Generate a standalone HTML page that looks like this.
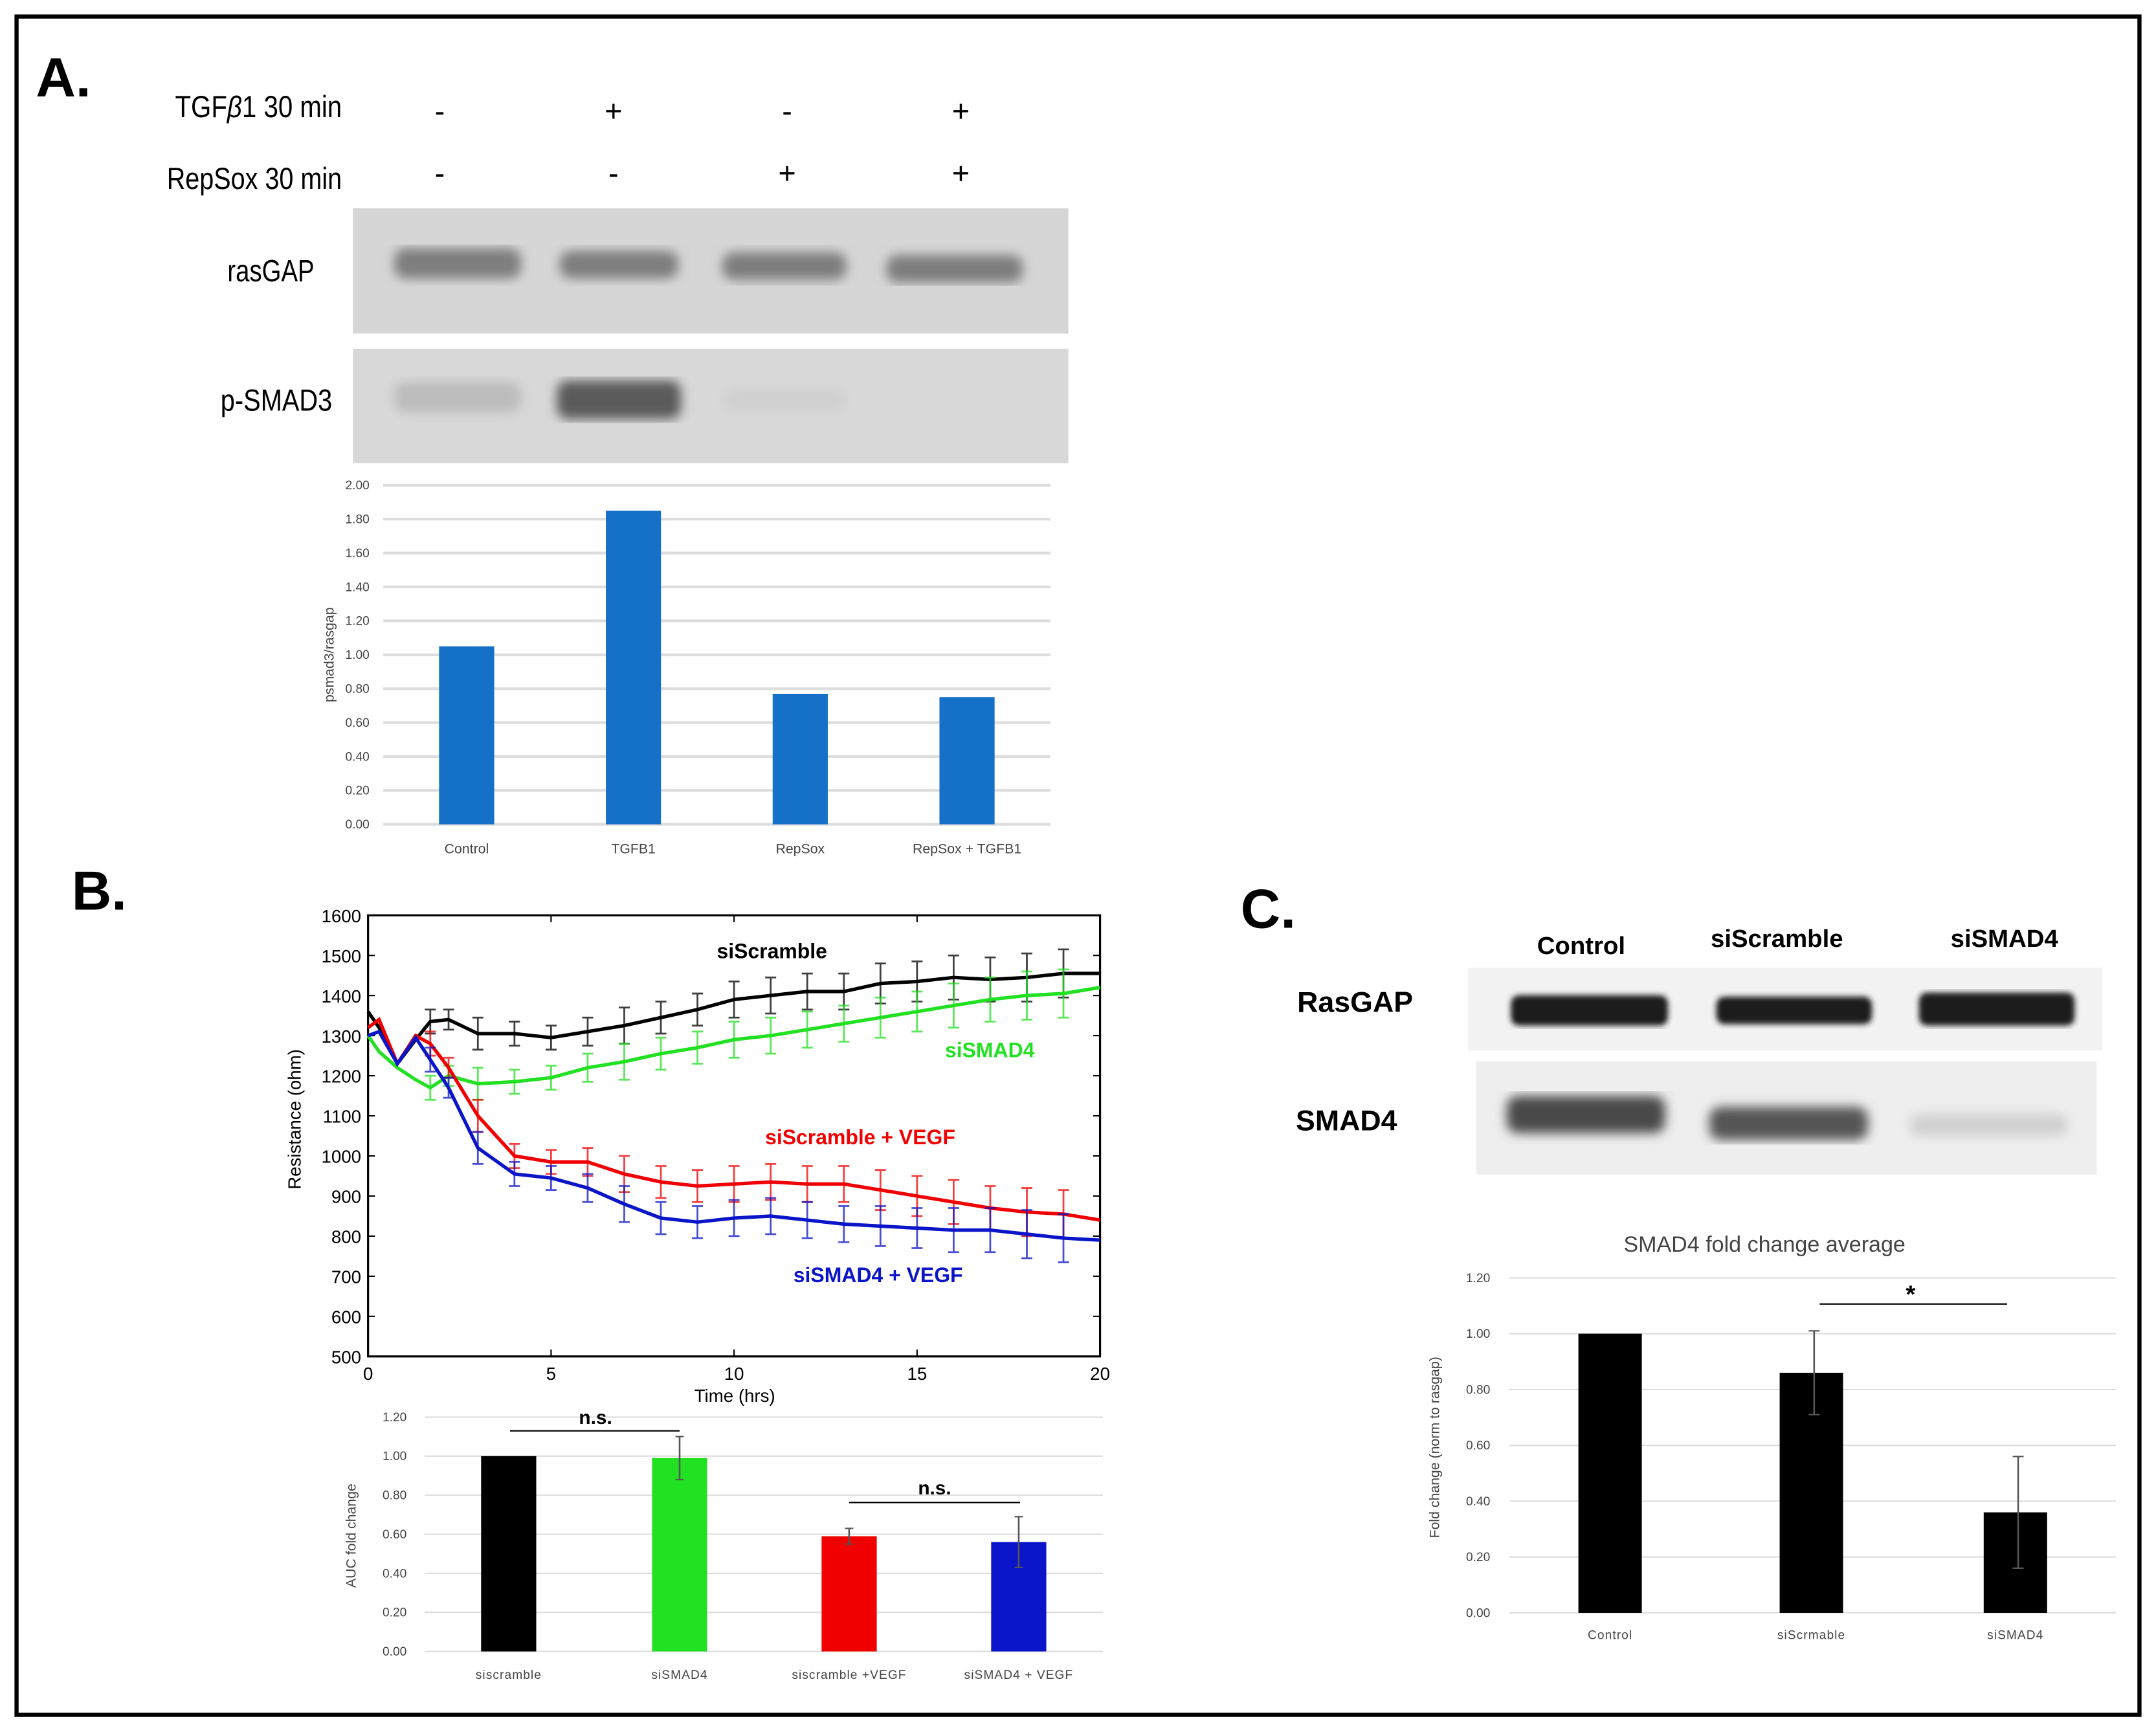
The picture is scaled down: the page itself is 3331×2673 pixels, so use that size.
<!DOCTYPE html>
<html><head><meta charset="utf-8"><style>
html,body{margin:0;padding:0;background:#fff;}
svg{display:block;font-family:"Liberation Sans",sans-serif;}
</style></head><body>
<svg id="fig" width="3331" height="2673" viewBox="0 0 1564 1255" preserveAspectRatio="none">
<defs>
<filter id="blur2"><feGaussianBlur stdDeviation="4"/></filter>
<filter id="blur1"><feGaussianBlur stdDeviation="2"/></filter>
</defs>
<rect x="0" y="0" width="1564" height="1255" fill="#fff"/>
<rect x="12" y="12" width="1540" height="1232" fill="none" stroke="#000" stroke-width="3"/>

<!-- Panel A -->
<text x="26" y="70" font-size="40" font-weight="bold">A.</text>
<text x="127" y="85" font-size="22" textLength="121" lengthAdjust="spacingAndGlyphs">TGF<tspan font-style="italic">β</tspan>1 30 min</text>
<text x="121" y="137" font-size="22" textLength="127" lengthAdjust="spacingAndGlyphs">RepSox 30 min</text>
<g font-size="22" text-anchor="middle">
<text x="319" y="88">-</text><text x="445" y="88">+</text><text x="571" y="88">-</text><text x="697" y="88">+</text>
<text x="319" y="133">-</text><text x="445" y="133">-</text><text x="571" y="133">+</text><text x="697" y="133">+</text>
</g>
<g>
<rect x="256" y="151" width="519" height="91" fill="#d6d6d6"/>
<g filter="url(#blur2)" fill="#7e7e7e">
<rect x="286" y="180" width="92" height="22" rx="8"/><rect x="406" y="182" width="86" height="20" rx="8"/>
<rect x="524" y="183" width="90" height="20" rx="8"/><rect x="643" y="185" width="99" height="20" rx="8"/>
</g></g>
<text x="165" y="204" font-size="22" textLength="63" lengthAdjust="spacingAndGlyphs">rasGAP</text>
<g>
<rect x="256" y="253" width="519" height="83" fill="#d8d8d8"/>
<g filter="url(#blur2)">
<rect x="286" y="277" width="92" height="22" rx="8" fill="#bcbcbc"/>
<rect x="404" y="276" width="90" height="28" rx="8" fill="#5a5a5a"/>
<rect x="524" y="282" width="90" height="16" rx="8" fill="#d0d0d0"/>
</g></g>
<text x="160" y="298" font-size="22" textLength="81" lengthAdjust="spacingAndGlyphs">p-SMAD3</text>
<g id="chartA"></g>

<!-- Panel B -->
<text x="52" y="660" font-size="40" font-weight="bold">B.</text>
<g id="chartB"></g>
<g id="chartB2"></g>

<!-- Panel C -->
<text x="900" y="673" font-size="40" font-weight="bold">C.</text>
<g font-size="18" font-weight="bold" text-anchor="middle">
<text x="1147" y="692">Control</text><text x="1289" y="687">siScramble</text><text x="1454" y="687">siSMAD4</text>
</g>
<text x="941" y="734" font-size="21" font-weight="bold">RasGAP</text>
<text x="940" y="820" font-size="21" font-weight="bold">SMAD4</text>
<g>
<rect x="1065" y="702" width="460" height="60" fill="#f2f2f2"/>
<g filter="url(#blur1)" fill="#1e1e1e">
<rect x="1096" y="722" width="114" height="22" rx="6"/><rect x="1245" y="723" width="113" height="20" rx="6"/><rect x="1392" y="720" width="113" height="24" rx="6"/>
</g></g>
<g>
<rect x="1071" y="770" width="450" height="82" fill="#eeeeee"/>
<g filter="url(#blur2)">
<rect x="1093" y="795" width="115" height="27" rx="8" fill="#4a4a4a"/>
<rect x="1240" y="803" width="115" height="24" rx="8" fill="#555"/>
<rect x="1385" y="808" width="115" height="16" rx="8" fill="#d0d0d0"/>
</g></g>
<text x="1280" y="908" font-size="16" fill="#444" text-anchor="middle">SMAD4 fold change average</text>
<g id="chartC"></g>
</svg>
<script>
const NS="http://www.w3.org/2000/svg";
function mk(p,tag,attrs,txt){const e=document.createElementNS(NS,tag);for(const k in attrs)e.setAttribute(k,attrs[k]);if(txt!==undefined)e.textContent=txt;p.appendChild(e);return e;}

// ---- Chart A data ----
const aCats=["Control","TGFB1","RepSox","RepSox + TGFB1"];
const aVals=[1.05,1.85,0.77,0.75];
const aTicks=["0.00","0.20","0.40","0.60","0.80","1.00","1.20","1.40","1.60","1.80","2.00"];
// ---- Chart B line data ----
const bTimes=[0,0.3,0.8,1.3,1.7,2.2,3,4,5,6,7,8,9,10,11,12,13,14,15,16,17,18,19,20];
const bScramble=[1360,1320,1230,1290,1335,1340,1305,1305,1295,1310,1325,1345,1365,1390,1400,1410,1410,1430,1435,1445,1440,1445,1455,1455];
const bSMAD4=[1300,1260,1220,1190,1170,1200,1180,1185,1195,1220,1235,1255,1270,1290,1300,1315,1330,1345,1360,1375,1390,1400,1405,1420];
const bScrVEGF=[1320,1340,1230,1300,1280,1220,1100,1000,985,985,955,935,925,930,935,930,930,915,900,885,870,860,855,840];
const bSmVEGF=[1300,1310,1230,1295,1240,1170,1020,955,945,920,880,845,835,845,850,840,830,825,820,815,815,805,795,790];
const bErr=[0,0,0,0,30,25,40,30,30,35,45,40,40,45,45,45,45,50,50,55,55,60,60,0];
const bXTicks=["0","5","10","15","20"];
const bYTicks=["500","600","700","800","900","1000","1100","1200","1300","1400","1500","1600"];
// ---- Chart B bar data ----
const b2Cats=["siscramble","siSMAD4","siscramble  +VEGF","siSMAD4 + VEGF"];
const b2Vals=[1.0,0.99,0.59,0.56];
const b2Errs=[0,0.11,0.04,0.13];
const b2Ticks=["0.00","0.20","0.40","0.60","0.80","1.00","1.20"];
// ---- Chart C data ----
const cCats=["Control","siScrmable","siSMAD4"];
const cVals=[1.0,0.86,0.36];
const cErrs=[0,0.15,0.2];
const cTicks=["0.00","0.20","0.40","0.60","0.80","1.00","1.20"];

// Chart A
(function(){
 const g=document.getElementById('chartA');
 const y=v=>598-v/2.0*246, x0=278,x1=762, bw=40, step=(x1-x0)/aCats.length;
 aTicks.forEach(t=>{const v=+t;
  const l=mk(g,'line',{x1:x0,x2:x1,y1:y(v),y2:y(v),stroke:'#ddd','stroke-width':2});
  
  const tx=mk(g,'text',{x:268,y:y(v)+3,'font-size':9,'text-anchor':'end',fill:'#444'},t);
  });
 aCats.forEach((c,i)=>{const cx=x0+step*(i+0.5);const v=aVals[i];
  const r=mk(g,'rect',{x:cx-bw/2,y:y(v),width:bw,height:y(0)-y(v),fill:'#1570c8'});
  
  const t=mk(g,'text',{x:cx,y:619,'font-size':10,'text-anchor':'middle',fill:'#444'},c);
  });
 const yt=mk(g,'text',{transform:'translate(242,475) rotate(-90)','font-size':10,'text-anchor':'middle',fill:'#444'},'psmad3/rasgap');
 
})();

// Chart B line
(function(){
 const g=document.getElementById('chartB');
 const X=t=>267+t/20*531, Y=v=>984-(v-500)/1100*320;
 const f=mk(g,'rect',{x:267,y:664,width:531,height:320,fill:'none',stroke:'#000','stroke-width':1.5});
 
 bYTicks.forEach(t=>{const v=+t;
  mk(g,'line',{x1:267,x2:272,y1:Y(v),y2:Y(v),stroke:'#000'});mk(g,'line',{x1:793,x2:798,y1:Y(v),y2:Y(v),stroke:'#000'});
  const tx=mk(g,'text',{x:262,y:Y(v)+5,'font-size':13,'text-anchor':'end'},t);
  });
 bXTicks.forEach(t=>{const v=+t;
  mk(g,'line',{x1:X(v),x2:X(v),y1:984,y2:979,stroke:'#000'});mk(g,'line',{x1:X(v),x2:X(v),y1:664,y2:669,stroke:'#000'});
  const tx=mk(g,'text',{x:X(v),y:1001,'font-size':13,'text-anchor':'middle'},t);
  });
 const xt=mk(g,'text',{x:533,y:1017,'font-size':13,'text-anchor':'middle'},'Time (hrs)');
 
 const yt=mk(g,'text',{transform:'translate(218,812) rotate(-90)','font-size':13,'text-anchor':'middle'},'Resistance (ohm)');
 
 const series=[[bScramble,'#000','siscramble'],[bSMAD4,'#22e022','sismad4'],[bScrVEGF,'#f00000','siscramble-vegf'],[bSmVEGF,'#0a14c8','sismad4-vegf']];
 series.forEach(([vals,col,name])=>{
  const eg=mk(g,'g',{stroke:col,'stroke-width':1.3,opacity:0.75});
  
  bTimes.forEach((t,i)=>{const e=bErr[i];if(!e)return;const cx=X(t);
   mk(eg,'line',{x1:cx,x2:cx,y1:Y(vals[i]-e),y2:Y(vals[i]+e)});
   mk(eg,'line',{x1:cx-4,x2:cx+4,y1:Y(vals[i]-e),y2:Y(vals[i]-e)});
   mk(eg,'line',{x1:cx-4,x2:cx+4,y1:Y(vals[i]+e),y2:Y(vals[i]+e)});});
  const p=mk(g,'polyline',{points:bTimes.map((t,i)=>X(t)+','+Y(vals[i])).join(' '),fill:'none',stroke:col,'stroke-width':2.5});
  
 });
 const labs=[['siScramble',560,695,'#000'],['siSMAD4',718,767,'#22e022'],['siScramble + VEGF',624,830,'#f00000'],['siSMAD4 + VEGF',637,930,'#0a14c8']];
 labs.forEach(([t,x,y,c])=>{const e=mk(g,'text',{x:x,y:y,'font-size':15,'font-weight':'bold','text-anchor':'middle',fill:c},t);
  });
})();

// Chart B bars
(function(){
 const g=document.getElementById('chartB2');
 const Y=v=>1198-v/1.2*170, x0=308,x1=800, bw=40, cxs=[369,493,616,739];
 b2Ticks.forEach(t=>{const v=+t;
  const l=mk(g,'line',{x1:x0,x2:x1,y1:Y(v),y2:Y(v),stroke:'#ddd','stroke-width':1});
  
  const tx=mk(g,'text',{x:295,y:Y(v)+3,'font-size':9,'text-anchor':'end',fill:'#444'},t);
  });
 const cols=['#000','#22e022','#f00000','#0a14c8'];
 b2Cats.forEach((c,i)=>{const cx=cxs[i],v=b2Vals[i],e=b2Errs[i];
  const r=mk(g,'rect',{x:cx-bw/2,y:Y(v),width:bw,height:Y(0)-Y(v),fill:cols[i]});
  
  if(e){mk(g,'line',{x1:cx,x2:cx,y1:Y(v-e),y2:Y(v+e),stroke:'#555','stroke-width':1.2});
   mk(g,'line',{x1:cx-3,x2:cx+3,y1:Y(v-e),y2:Y(v-e),stroke:'#555'});mk(g,'line',{x1:cx-3,x2:cx+3,y1:Y(v+e),y2:Y(v+e),stroke:'#555'});}
  const t=mk(g,'text',{x:cx,y:1218,'font-size':9,'text-anchor':'middle',fill:'#444','letter-spacing':0.5},c);
  });
 mk(g,'line',{x1:370,x2:493,y1:1038,y2:1038,stroke:'#000'});
 mk(g,'line',{x1:616,x2:740,y1:1090,y2:1090,stroke:'#000'});
 const n1=mk(g,'text',{x:432,y:1033,'font-size':14,'font-weight':'bold','text-anchor':'middle'},'n.s.');
 
 const n2=mk(g,'text',{x:678,y:1084,'font-size':14,'font-weight':'bold','text-anchor':'middle'},'n.s.');
 
 const yt=mk(g,'text',{transform:'translate(258,1114) rotate(-90)','font-size':10,'text-anchor':'middle',fill:'#444'},'AUC fold change');
 
})();

// Chart C
(function(){
 const g=document.getElementById('chartC');
 const Y=v=>1170-v/1.2*243, x0=1095,x1=1535, bw=46, cxs=[1168,1314,1462];
 cTicks.forEach(t=>{const v=+t;
  const l=mk(g,'line',{x1:x0,x2:x1,y1:Y(v),y2:Y(v),stroke:'#ddd','stroke-width':1});
  
  const tx=mk(g,'text',{x:1081,y:Y(v)+3,'font-size':9,'text-anchor':'end',fill:'#444'},t);
  });
 cCats.forEach((c,i)=>{const cx=cxs[i],v=cVals[i],e=cErrs[i];
  const r=mk(g,'rect',{x:cx-bw/2,y:Y(v),width:bw,height:Y(0)-Y(v),fill:'#000'});
  
  if(e){mk(g,'line',{x1:cx+2,x2:cx+2,y1:Y(v-e),y2:Y(v+e),stroke:'#555','stroke-width':1.2});
   mk(g,'line',{x1:cx-2,x2:cx+6,y1:Y(v-e),y2:Y(v-e),stroke:'#555'});mk(g,'line',{x1:cx-2,x2:cx+6,y1:Y(v+e),y2:Y(v+e),stroke:'#555'});}
  const t=mk(g,'text',{x:cx,y:1189,'font-size':9,'text-anchor':'middle',fill:'#444','letter-spacing':0.5},c);
  });
 mk(g,'line',{x1:1320,x2:1456,y1:946,y2:946,stroke:'#000'});
 const s=mk(g,'text',{x:1386,y:945,'font-size':18,'font-weight':'bold','text-anchor':'middle'},'*');
 
 const yt=mk(g,'text',{transform:'translate(1044,1050) rotate(-90)','font-size':10,'text-anchor':'middle',fill:'#444'},'Fold change (norm to rasgap)');
 
})();
</script>
</body></html>
